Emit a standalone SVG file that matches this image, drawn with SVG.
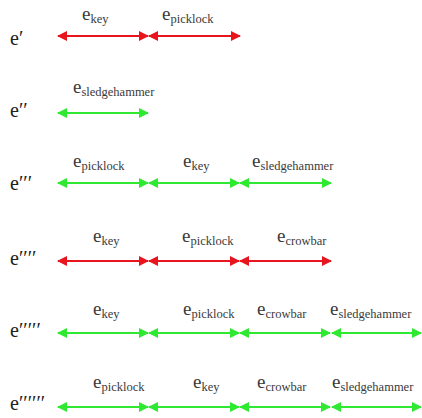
<svg xmlns="http://www.w3.org/2000/svg" width="422" height="418" viewBox="0 0 422 418">
  <style>
    .t { fill: #3a3a3a; font-family: "Times New Roman", Times, "Liberation Serif", serif; }
    .e { font-size: 19px; }
    .s { font-size: 12.5px; }
    .lbl { font-size: 20px; fill: #222; }
    .red { stroke: #e8141e; stroke-width: 2; fill: none; marker-start: url(#hr); marker-end: url(#hr); }
    .grn { stroke: #2ee832; stroke-width: 2; fill: none; marker-start: url(#hg); marker-end: url(#hg); }
  </style>
  <defs>
    <marker id="hr" viewBox="0 0 10 10" refX="9" refY="5" markerWidth="10" markerHeight="10" markerUnits="userSpaceOnUse" orient="auto-start-reverse">
      <path d="M0,0 L10,5 L0,10 Z" fill="#e8141e"/>
    </marker>
    <marker id="hg" viewBox="0 0 10 10" refX="9" refY="5" markerWidth="10" markerHeight="10" markerUnits="userSpaceOnUse" orient="auto-start-reverse">
      <path d="M0,0 L10,5 L0,10 Z" fill="#2ee832"/>
    </marker>
  </defs>

  <!-- row labels -->
  <g id="row-labels" class="t">
    <text class="lbl" x="10" y="45">e′</text>
    <text class="lbl" x="10" y="117">e′′</text>
    <text class="lbl" x="10" y="190">e′′′</text>
    <text class="lbl" x="10" y="265">e′′′′</text>
    <text class="lbl" x="10" y="337">e′′′′′</text>
    <text class="lbl" x="10" y="410">e′′′′′′</text>
  </g>

  <!-- interval arrows -->
  <g id="connectors">
    <path class="red" d="M58,36 H148"/>
    <path class="red" d="M149,36 H240"/>

    <path class="grn" d="M58,113 H148"/>

    <path class="grn" d="M58,183 H148"/>
    <path class="grn" d="M149,183 H239"/>
    <path class="grn" d="M240,183 H331"/>

    <path class="red" d="M58,261 H148"/>
    <path class="red" d="M149,261 H239"/>
    <path class="red" d="M240,261 H331"/>

    <path class="grn" d="M58,333 H148"/>
    <path class="grn" d="M149,333 H239"/>
    <path class="grn" d="M240,333 H330"/>
    <path class="grn" d="M332,333 H421"/>

    <path class="grn" d="M58,407 H148"/>
    <path class="grn" d="M149,407 H239"/>
    <path class="grn" d="M240,407 H330"/>
    <path class="grn" d="M332,407 H421"/>
  </g>

  <!-- interval names -->
  <g id="row1" class="t">
    <text class="e" x="82" y="20">e<tspan class="s" dy="3">key</tspan></text>
    <text class="e" x="162" y="20">e<tspan class="s" dy="3">picklock</tspan></text>
  </g>
  <g id="row2" class="t">
    <text class="e" x="73" y="93">e<tspan class="s" dy="3">sledgehammer</tspan></text>
  </g>
  <g id="row3" class="t">
    <text class="e" x="73" y="167">e<tspan class="s" dy="3">picklock</tspan></text>
    <text class="e" x="183" y="167">e<tspan class="s" dy="3">key</tspan></text>
    <text class="e" x="252" y="167">e<tspan class="s" dy="3">sledgehammer</tspan></text>
  </g>
  <g id="row4" class="t">
    <text class="e" x="93" y="242">e<tspan class="s" dy="3">key</tspan></text>
    <text class="e" x="182" y="242">e<tspan class="s" dy="3">picklock</tspan></text>
    <text class="e" x="277" y="242">e<tspan class="s" dy="3">crowbar</tspan></text>
  </g>
  <g id="row5" class="t">
    <text class="e" x="93" y="315">e<tspan class="s" dy="3">key</tspan></text>
    <text class="e" x="183" y="315">e<tspan class="s" dy="3">picklock</tspan></text>
    <text class="e" x="257" y="315">e<tspan class="s" dy="3">crowbar</tspan></text>
    <text class="e" x="330" y="315">e<tspan class="s" dy="3">sledgehammer</tspan></text>
  </g>
  <g id="row6" class="t">
    <text class="e" x="93" y="388">e<tspan class="s" dy="3">picklock</tspan></text>
    <text class="e" x="193" y="388">e<tspan class="s" dy="3">key</tspan></text>
    <text class="e" x="257" y="388">e<tspan class="s" dy="3">crowbar</tspan></text>
    <text class="e" x="332" y="388">e<tspan class="s" dy="3">sledgehammer</tspan></text>
  </g>
</svg>
